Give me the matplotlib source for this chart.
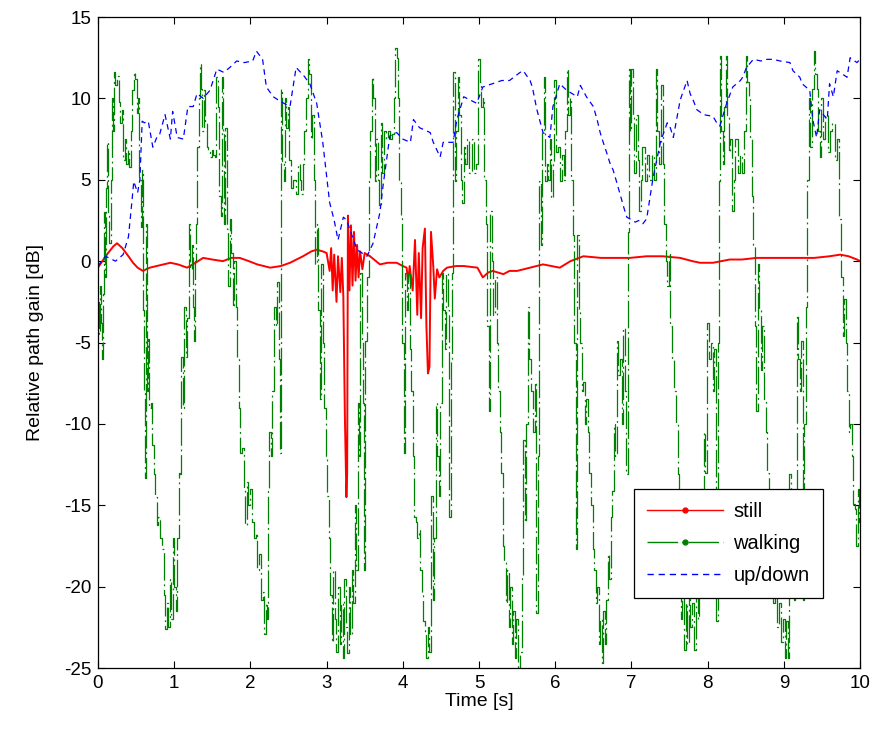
import numpy as np
import matplotlib
matplotlib.use('Agg')
from matplotlib import pyplot as plt
from matplotlib.lines import Line2D

# (time [s], gain [dB])
still = np.array([
    [0.00, -0.4], [0.10, 0.3], [0.20, 0.9], [0.25, 1.1], [0.32, 0.8], [0.40, 0.3],
    [0.46, -0.1], [0.52, -0.4], [0.59, -0.6], [0.68, -0.4], [0.77, -0.3],
    [0.95, -0.1], [1.05, -0.2], [1.17, -0.4], [1.28, -0.1], [1.38, 0.2],
    [1.50, 0.1], [1.64, 0.0], [1.75, 0.2], [1.86, 0.2], [1.98, 0.0],
    [2.09, -0.2], [2.26, -0.4], [2.40, -0.3], [2.52, -0.1], [2.69, 0.3],
    [2.80, 0.6], [2.87, 0.7], [2.95, 0.6], [3.00, 0.5], [3.04, -0.6],
    [3.06, 0.8], [3.08, -1.8], [3.10, 0.4], [3.13, -2.5], [3.15, 0.3],
    [3.18, -1.9], [3.20, 0.2], [3.22, -2.2], [3.24, -9.5], [3.26, -14.5],
    [3.27, -13.0], [3.28, 2.8], [3.30, -1.8], [3.32, 2.2], [3.34, -1.5],
    [3.36, 1.8], [3.38, -1.2], [3.40, 1.0], [3.42, -1.0], [3.44, 0.6],
    [3.47, -0.5], [3.50, 0.5], [3.57, 0.3], [3.70, -0.2], [3.80, -0.1],
    [3.92, -0.1], [4.00, -0.3], [4.05, -0.4], [4.07, -1.3], [4.09, -0.3],
    [4.13, -1.8], [4.16, 1.3], [4.19, -3.3], [4.21, 0.5], [4.24, -3.5],
    [4.26, 0.8], [4.29, 2.0], [4.31, -4.0], [4.33, -6.9], [4.35, -6.5],
    [4.37, 1.8], [4.40, -0.3], [4.42, -2.3], [4.45, -0.5], [4.48, -1.0],
    [4.53, -0.6], [4.58, -0.4], [4.70, -0.3], [4.80, -0.3], [4.98, -0.4],
    [5.05, -1.0], [5.12, -0.7], [5.18, -0.6], [5.32, -0.8], [5.40, -0.6],
    [5.50, -0.6], [5.67, -0.4], [5.84, -0.2], [5.95, -0.3], [6.06, -0.4],
    [6.20, 0.0], [6.37, 0.3], [6.60, 0.2], [6.98, 0.2], [7.20, 0.3],
    [7.41, 0.3], [7.64, 0.2], [7.80, 0.0], [7.90, -0.1], [8.07, -0.1],
    [8.29, 0.1], [8.45, 0.1], [8.64, 0.2], [9.00, 0.2], [9.40, 0.2],
    [9.60, 0.3], [9.74, 0.4], [9.85, 0.3], [9.96, 0.1], [10.0, 0.0],
])

walking = np.array([
    [0.00, -2.5], [0.02, -4.5], [0.03, -1.5], [0.05, -3.8], [0.06, -6.0], [0.07, -2.0],
    [0.09, 3.0], [0.10, -1.0], [0.11, 4.5], [0.13, 7.3], [0.14, 3.0], [0.16, 1.1],
    [0.17, 5.0], [0.19, 10.0], [0.21, 8.0], [0.22, 11.6], [0.24, 10.8], [0.26, 11.4],
    [0.28, 9.8], [0.30, 8.5], [0.32, 9.3], [0.34, 6.2], [0.36, 7.5], [0.38, 6.0],
    [0.40, 6.8], [0.42, 5.8], [0.44, 8.0], [0.46, 10.5], [0.48, 11.6], [0.50, 11.2],
    [0.52, 9.1], [0.54, 10.0], [0.55, 5.0], [0.57, 2.1], [0.58, 5.6], [0.60, -3.0],
    [0.61, -8.0], [0.62, -13.3], [0.63, -5.4], [0.64, 2.3], [0.65, -8.0], [0.66, -4.8],
    [0.68, -9.0], [0.70, -8.7], [0.72, -11.3], [0.74, -13.1], [0.76, -14.5], [0.78, -16.2],
    [0.80, -15.7], [0.82, -17.0], [0.85, -17.7], [0.87, -20.5], [0.89, -22.6], [0.91, -21.0],
    [0.93, -22.5], [0.95, -19.5], [0.97, -22.0], [0.99, -17.0], [1.01, -20.0], [1.03, -21.5],
    [1.05, -17.0], [1.07, -13.0], [1.09, -13.1], [1.10, -5.9], [1.12, -9.0], [1.14, -2.8],
    [1.16, -5.9], [1.18, -3.5], [1.20, 2.3], [1.22, -0.5], [1.24, 1.0], [1.26, -2.8],
    [1.27, -4.9], [1.28, 0.0], [1.30, 2.3], [1.31, 7.0], [1.33, 10.0], [1.35, 12.1],
    [1.36, 10.6], [1.38, 8.0], [1.40, 10.5], [1.42, 8.5], [1.44, 7.0], [1.46, 6.7],
    [1.48, 6.4], [1.50, 6.8], [1.53, 6.5], [1.55, 6.4], [1.56, 11.3], [1.58, 9.5],
    [1.60, 4.0], [1.62, 2.8], [1.63, 11.3], [1.65, 8.0], [1.66, 2.3], [1.68, 8.2],
    [1.70, 2.0], [1.72, -1.5], [1.74, 2.6], [1.76, 0.5], [1.78, -2.8], [1.80, 0.0],
    [1.82, -2.8], [1.84, -6.0], [1.86, -9.0], [1.88, -11.8], [1.90, -11.5], [1.92, -14.0],
    [1.94, -16.2], [1.96, -13.6], [1.98, -15.0], [2.00, -14.0], [2.03, -16.0], [2.06, -17.0],
    [2.08, -16.7], [2.10, -19.0], [2.12, -18.0], [2.15, -20.8], [2.17, -20.3], [2.19, -22.9],
    [2.21, -21.0], [2.22, -22.0], [2.24, -14.1], [2.26, -10.5], [2.28, -12.0], [2.30, -8.0],
    [2.32, -2.8], [2.34, -4.0], [2.36, -1.3], [2.38, -6.0], [2.40, -11.8], [2.41, 10.6],
    [2.43, 6.0], [2.45, 4.9], [2.46, 10.0], [2.48, 8.2], [2.50, 9.5], [2.52, 6.2],
    [2.55, 4.5], [2.58, 5.0], [2.61, 4.1], [2.64, 6.0], [2.66, 5.0], [2.68, 4.1],
    [2.70, 6.0], [2.72, 8.0], [2.74, 10.0], [2.76, 12.4], [2.78, 11.5], [2.80, 7.5],
    [2.82, 9.0], [2.84, 5.0], [2.86, -0.2], [2.88, 2.3], [2.90, -3.0], [2.92, -8.5],
    [2.94, -0.2], [2.96, -5.0], [2.98, -9.0], [3.00, -12.0], [3.02, -14.4], [3.04, -17.0],
    [3.06, -20.5], [3.08, -23.4], [3.10, -19.0], [3.12, -22.0], [3.14, -24.0], [3.16, -20.0],
    [3.18, -23.5], [3.20, -21.0], [3.22, -24.4], [3.24, -19.5], [3.26, -22.5], [3.28, -24.1],
    [3.30, -20.0], [3.32, -23.0], [3.34, -19.0], [3.36, -21.0], [3.38, -15.0], [3.40, -19.0],
    [3.42, -8.7], [3.44, -12.0], [3.45, -0.7], [3.47, -4.9], [3.49, -8.7], [3.50, -19.0],
    [3.52, -4.9], [3.54, -1.0], [3.56, 4.9], [3.58, 8.0], [3.60, 11.3], [3.62, 10.0],
    [3.64, 4.9], [3.66, 7.5], [3.68, 5.0], [3.70, 3.4], [3.72, 8.5], [3.74, 5.4],
    [3.76, 8.0], [3.79, 7.5], [3.82, 8.0], [3.85, 7.5], [3.87, 7.8], [3.89, 10.0],
    [3.91, 13.1], [3.93, 12.5], [3.94, 10.0], [3.96, 5.0], [3.98, 2.8], [4.00, -5.0],
    [4.02, -11.8], [4.04, -0.7], [4.06, -3.0], [4.08, -0.7], [4.10, -5.4], [4.12, -8.0],
    [4.14, -12.0], [4.16, -15.7], [4.18, -16.0], [4.20, -17.0], [4.22, -16.5], [4.24, -19.0],
    [4.26, -20.5], [4.28, -22.1], [4.30, -23.0], [4.32, -24.4], [4.34, -22.5], [4.36, -24.0],
    [4.38, -14.4], [4.40, -20.8], [4.42, -17.0], [4.44, -8.7], [4.46, -12.0], [4.48, -14.4],
    [4.50, -8.7], [4.52, -0.7], [4.54, -3.0], [4.56, -5.4], [4.58, -0.7], [4.60, -3.0],
    [4.62, -15.7], [4.64, -6.0], [4.66, -0.7], [4.67, 11.6], [4.69, 4.9], [4.71, 8.0],
    [4.73, 11.3], [4.75, 9.0], [4.77, 5.0], [4.79, 3.6], [4.81, 7.0], [4.83, 6.0],
    [4.86, 7.5], [4.89, 5.4], [4.92, 7.5], [4.95, 5.4], [4.98, 6.0], [5.00, 12.4],
    [5.02, 11.0], [5.04, 9.5], [5.06, 10.0], [5.08, 5.0], [5.10, 2.3], [5.12, -4.0],
    [5.14, -9.2], [5.16, 3.1], [5.18, 0.0], [5.20, -3.3], [5.22, -1.0], [5.24, -5.0],
    [5.26, -8.0], [5.28, -10.5], [5.30, -13.0], [5.32, -17.5], [5.34, -18.5], [5.36, -21.0],
    [5.38, -19.0], [5.40, -22.5], [5.42, -20.0], [5.44, -23.5], [5.46, -21.5], [5.48, -24.4],
    [5.50, -22.0], [5.53, -25.5], [5.55, -24.0], [5.57, -19.3], [5.59, -11.0], [5.61, -16.0],
    [5.63, -10.0], [5.65, -2.8], [5.67, -6.0], [5.69, -8.0], [5.72, -10.5], [5.74, -7.4],
    [5.76, -21.6], [5.78, -12.0], [5.80, 4.9], [5.82, 1.0], [5.84, 8.0], [5.86, 11.3],
    [5.88, 4.9], [5.90, 6.0], [5.92, 5.0], [5.94, 7.5], [5.96, 3.9], [5.98, 6.0],
    [6.00, 11.1], [6.02, 6.7], [6.05, 7.0], [6.08, 4.9], [6.10, 6.5], [6.12, 5.0],
    [6.14, 8.0], [6.16, 11.8], [6.18, 9.0], [6.20, 10.0], [6.22, 5.0], [6.24, 1.6],
    [6.26, -5.0], [6.28, -17.7], [6.30, 1.6], [6.32, -3.0], [6.34, -5.0], [6.36, -8.0],
    [6.38, -7.4], [6.40, -10.0], [6.42, -8.5], [6.44, -10.5], [6.46, -13.0], [6.48, -15.0],
    [6.50, -17.7], [6.52, -19.0], [6.54, -21.0], [6.56, -20.0], [6.58, -23.5], [6.60, -22.0],
    [6.62, -24.7], [6.64, -21.5], [6.66, -23.5], [6.68, -20.8], [6.70, -18.0], [6.72, -19.5],
    [6.74, -15.7], [6.76, -14.1], [6.78, -10.0], [6.80, -12.0], [6.82, -4.9], [6.84, -7.0],
    [6.86, -6.0], [6.88, -10.0], [6.90, -4.1], [6.92, -8.0], [6.94, -13.1], [6.96, 1.8],
    [6.97, 11.8], [6.99, 8.0], [7.01, 11.8], [7.03, 9.0], [7.05, 5.4], [7.07, 9.0],
    [7.09, 6.2], [7.11, 3.1], [7.13, 5.0], [7.16, 7.0], [7.19, 4.9], [7.22, 6.5],
    [7.25, 5.0], [7.28, 6.5], [7.31, 5.0], [7.33, 11.8], [7.35, 8.0], [7.38, 6.0],
    [7.40, 10.8], [7.42, 6.0], [7.44, 2.3], [7.46, 0.0], [7.48, -1.5], [7.50, 0.5],
    [7.52, -4.0], [7.54, -6.0], [7.57, -8.0], [7.60, -10.0], [7.62, -13.1], [7.64, -19.3],
    [7.66, -22.0], [7.68, -20.5], [7.70, -23.9], [7.72, -21.0], [7.74, -23.5], [7.76, -20.0],
    [7.78, -22.5], [7.80, -21.0], [7.83, -23.9], [7.86, -20.5], [7.88, -22.0], [7.90, -19.5],
    [7.92, -14.0], [7.94, -16.0], [7.96, -10.5], [7.98, -13.0], [8.00, -3.8], [8.03, -6.0],
    [8.06, -5.0], [8.08, -8.0], [8.10, -5.4], [8.12, -22.1], [8.14, -5.0], [8.15, 4.9],
    [8.17, 12.6], [8.19, 8.0], [8.21, 6.0], [8.23, 9.5], [8.25, 12.6], [8.27, 9.0],
    [8.29, 6.7], [8.31, 7.5], [8.33, 3.1], [8.35, 5.0], [8.38, 7.5], [8.41, 5.4],
    [8.44, 6.5], [8.47, 5.4], [8.49, 8.0], [8.51, 12.6], [8.53, 11.0], [8.55, 10.0],
    [8.57, 7.5], [8.59, 4.0], [8.61, 1.0], [8.63, -4.0], [8.65, -9.2], [8.67, -0.2],
    [8.69, -3.0], [8.71, -6.7], [8.73, -4.0], [8.75, -8.5], [8.77, -10.5], [8.79, -13.0],
    [8.81, -15.0], [8.83, -17.5], [8.85, -19.5], [8.87, -21.0], [8.89, -20.3], [8.92, -22.5],
    [8.95, -21.0], [8.98, -23.4], [9.00, -22.0], [9.02, -24.4], [9.04, -22.1], [9.06, -24.4],
    [9.08, -13.1], [9.10, -17.0], [9.12, -19.0], [9.14, -20.8], [9.16, -15.0], [9.18, -3.3],
    [9.20, -6.0], [9.22, -8.0], [9.24, -4.9], [9.26, -20.8], [9.28, -10.0], [9.30, -2.8],
    [9.32, 5.0], [9.34, 10.0], [9.36, 7.0], [9.38, 10.6], [9.40, 12.9], [9.42, 11.5],
    [9.44, 10.6], [9.46, 8.0], [9.48, 6.4], [9.50, 10.0], [9.53, 7.5], [9.56, 9.0],
    [9.59, 6.7], [9.62, 8.0], [9.65, 8.5], [9.68, 6.2], [9.71, 7.5], [9.74, 2.6],
    [9.76, -1.0], [9.78, -4.6], [9.80, -2.3], [9.82, -5.0], [9.84, -8.0], [9.86, -10.5],
    [9.88, -10.0], [9.90, -12.0], [9.92, -14.9], [9.94, -15.2], [9.96, -17.5], [9.98, -14.0],
    [10.0, -16.0],
])

updown = np.array([
    [0.00, -0.3], [0.10, 0.3], [0.23, 0.0], [0.33, 0.4], [0.40, 1.5], [0.44, 3.4],
    [0.47, 4.9], [0.52, 4.2], [0.55, 5.0], [0.58, 8.6], [0.61, 8.5], [0.66, 8.6],
    [0.72, 7.0], [0.78, 7.7], [0.81, 7.8], [0.88, 9.0], [0.95, 7.5], [0.98, 9.2],
    [1.04, 7.6], [1.12, 7.5], [1.18, 9.5], [1.25, 9.5], [1.30, 10.3], [1.38, 10.0],
    [1.47, 10.5], [1.56, 11.8], [1.65, 11.6], [1.73, 11.9], [1.82, 12.3], [1.92, 12.2],
    [2.03, 12.3], [2.08, 12.9], [2.16, 12.4], [2.21, 10.7], [2.30, 10.1], [2.40, 9.8],
    [2.52, 9.5], [2.60, 11.9], [2.70, 11.4], [2.78, 10.9], [2.87, 9.7], [2.95, 7.3],
    [3.04, 3.6], [3.10, 2.5], [3.15, 1.3], [3.22, 2.7], [3.27, 2.5], [3.30, 2.0],
    [3.40, 0.7], [3.53, 0.3], [3.61, 1.1], [3.70, 3.0], [3.74, 4.6], [3.83, 7.7],
    [3.92, 7.9], [4.00, 7.5], [4.10, 7.3], [4.14, 8.7], [4.22, 8.2], [4.36, 7.9],
    [4.40, 7.3], [4.49, 6.4], [4.53, 7.3], [4.66, 7.3], [4.71, 8.7], [4.80, 10.1],
    [4.97, 9.7], [5.05, 10.7], [5.30, 11.1], [5.40, 11.1], [5.54, 11.6], [5.58, 11.7],
    [5.67, 11.1], [5.70, 10.7], [5.76, 9.3], [5.84, 7.9], [5.93, 7.6], [5.97, 9.5],
    [6.06, 10.9], [6.15, 10.5], [6.29, 10.1], [6.33, 10.8], [6.41, 10.1], [6.50, 9.5],
    [6.55, 8.7], [6.59, 7.9], [6.63, 7.3], [6.68, 6.6], [6.72, 6.0], [6.76, 5.6],
    [6.81, 4.8], [6.90, 3.3], [6.94, 2.7], [6.98, 2.6], [7.05, 2.4], [7.10, 2.5],
    [7.15, 2.3], [7.20, 2.6], [7.24, 3.8], [7.28, 5.0], [7.38, 7.3], [7.47, 8.5],
    [7.51, 8.2], [7.55, 7.6], [7.64, 9.9], [7.73, 11.1], [7.77, 10.3], [7.81, 9.9],
    [7.86, 9.3], [7.95, 9.0], [8.07, 8.9], [8.12, 8.5], [8.16, 8.3], [8.25, 9.7],
    [8.33, 10.7], [8.43, 11.1], [8.46, 11.3], [8.51, 11.9], [8.60, 12.4], [8.70, 12.3],
    [8.78, 12.4], [8.86, 12.4], [8.95, 12.3], [9.08, 12.2], [9.12, 11.7], [9.21, 11.3],
    [9.24, 10.9], [9.34, 10.5], [9.38, 8.7], [9.43, 7.6], [9.47, 9.3], [9.57, 8.7],
    [9.60, 10.9], [9.65, 10.1], [9.70, 11.7], [9.83, 11.3], [9.87, 12.5], [9.96, 12.2],
    [10.0, 12.4],
])

x_ticks = np.arange(0, 11, 1)
y_ticks = np.arange(-25, 20, 5)

plt.rcParams['font.family'] = ['Liberation Sans', 'DejaVu Sans']
plt.rcParams['axes.unicode_minus'] = False  # plain hyphen like the original

fig = plt.figure(figsize=(8.81, 7.34), dpi=100)
ax = fig.add_axes([0.1112, 0.0899, 0.8650, 0.8869])

ax.plot(still[:, 0], still[:, 1], color='red', lw=1.4)
ax.plot(walking[:, 0], walking[:, 1], color='#008000', lw=0.9,
        drawstyle='steps-mid', dashes=(22, 3, 1.5, 3))
ax.plot(updown[:, 0], updown[:, 1], color='blue', lw=0.9, dashes=(4.5, 3.5))

ax.set_xlim(0, 10)
ax.set_ylim(-25, 15)
ax.set_xticks(x_ticks)
ax.set_yticks(y_ticks)
ax.tick_params(direction='in', top=True, right=True, length=5, width=0.8,
               labelsize=13.5, pad=5)
for s in ax.spines.values():
    s.set_linewidth(0.9)
ax.set_xlabel('Time [s]', fontsize=14, labelpad=1)
ax.set_ylabel('Relative path gain [dB]', fontsize=14, labelpad=14)

handles = [
    Line2D([], [], color='red', lw=1, marker='.', markersize=7),
    Line2D([], [], color='#008000', lw=1, marker='.', markersize=7, dashes=(22, 3, 1.5, 3)),
    Line2D([], [], color='blue', lw=1, dashes=(4.5, 3.5)),
]
leg = ax.legend(handles, ['still', 'walking', 'up/down'], loc='lower left',
                bbox_to_anchor=(0.703, 0.107), handlelength=3.8, fontsize=14.5,
                fancybox=False, framealpha=1, edgecolor='black', borderpad=0.65,
                labelspacing=0.65, handletextpad=0.5, borderaxespad=0)
leg.get_frame().set_linewidth(0.9)

fig.savefig('out.png', dpi=100)
